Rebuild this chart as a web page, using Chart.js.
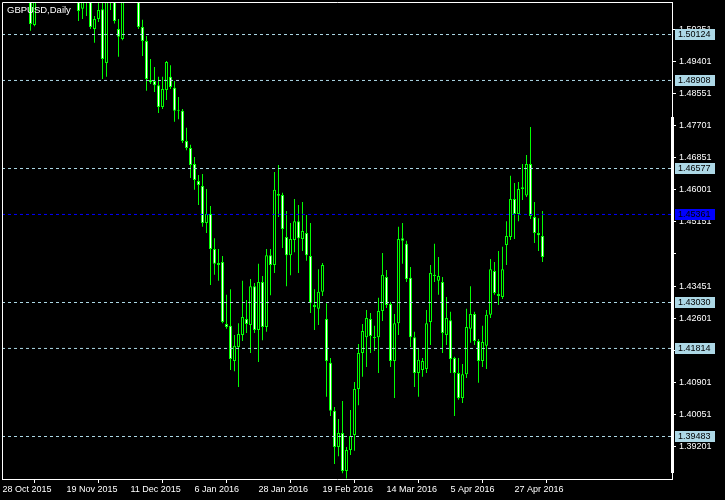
<!DOCTYPE html>
<html>
<head>
<meta charset="utf-8">
<script src="https://cdn.jsdelivr.net/npm/chart.js@4.4.1/dist/chart.umd.min.js"></script>
<style>
html,body{margin:0;padding:0;background:#000;overflow:hidden}
#wrap{width:725px;height:500px;position:relative}
canvas{display:block}
</style>
</head>
<body>
<div id="wrap"><canvas id="c" width="725" height="500"></canvas></div>
<script>
// ---------------- data ----------------
const symbolTitle = 'GBPUSD,Daily';

const barDates = [
 '28 Oct 2015','29 Oct 2015','30 Oct 2015',
 '2 Nov 2015','3 Nov 2015','4 Nov 2015','5 Nov 2015','6 Nov 2015',
 '9 Nov 2015','10 Nov 2015','11 Nov 2015','12 Nov 2015','13 Nov 2015',
 '16 Nov 2015','17 Nov 2015','18 Nov 2015','19 Nov 2015','20 Nov 2015',
 '23 Nov 2015','24 Nov 2015','25 Nov 2015','26 Nov 2015','27 Nov 2015',
 '30 Nov 2015','1 Dec 2015','2 Dec 2015','3 Dec 2015','4 Dec 2015',
 '7 Dec 2015','8 Dec 2015','9 Dec 2015','10 Dec 2015','11 Dec 2015',
 '14 Dec 2015','15 Dec 2015','16 Dec 2015','17 Dec 2015','18 Dec 2015',
 '21 Dec 2015','22 Dec 2015','23 Dec 2015','24 Dec 2015',
 '28 Dec 2015','29 Dec 2015','30 Dec 2015','31 Dec 2015',
 '4 Jan 2016','5 Jan 2016','6 Jan 2016','7 Jan 2016','8 Jan 2016',
 '11 Jan 2016','12 Jan 2016','13 Jan 2016','14 Jan 2016','15 Jan 2016',
 '18 Jan 2016','19 Jan 2016','20 Jan 2016','21 Jan 2016','22 Jan 2016',
 '25 Jan 2016','26 Jan 2016','27 Jan 2016','28 Jan 2016','29 Jan 2016',
 '1 Feb 2016','2 Feb 2016','3 Feb 2016','4 Feb 2016','5 Feb 2016',
 '8 Feb 2016','9 Feb 2016','10 Feb 2016','11 Feb 2016','12 Feb 2016',
 '15 Feb 2016','16 Feb 2016','17 Feb 2016','18 Feb 2016','19 Feb 2016',
 '22 Feb 2016','23 Feb 2016','24 Feb 2016','25 Feb 2016','26 Feb 2016',
 '29 Feb 2016','1 Mar 2016','2 Mar 2016','3 Mar 2016','4 Mar 2016',
 '7 Mar 2016','8 Mar 2016','9 Mar 2016','10 Mar 2016','11 Mar 2016',
 '14 Mar 2016','15 Mar 2016','16 Mar 2016','17 Mar 2016','18 Mar 2016',
 '21 Mar 2016','22 Mar 2016','23 Mar 2016','24 Mar 2016','25 Mar 2016',
 '28 Mar 2016','29 Mar 2016','30 Mar 2016','31 Mar 2016','1 Apr 2016',
 '4 Apr 2016','5 Apr 2016','6 Apr 2016','7 Apr 2016','8 Apr 2016',
 '11 Apr 2016','12 Apr 2016','13 Apr 2016','14 Apr 2016','15 Apr 2016',
 '18 Apr 2016','19 Apr 2016','20 Apr 2016','21 Apr 2016','22 Apr 2016',
 '25 Apr 2016','26 Apr 2016','27 Apr 2016','28 Apr 2016','29 Apr 2016',
 '2 May 2016','3 May 2016','4 May 2016','5 May 2016','6 May 2016'
];

const opens = [
 1.5310,1.5255,1.5260,1.5425,1.5405,1.5395,1.5320,1.5210,1.5036,1.5115,
 1.5205,1.5190,1.5230,1.5215,1.5205,1.5190,1.5250,1.5265,1.5195,1.5115,
 1.5079,1.5110,1.5105,1.5026,1.5052,1.5078,1.4936,1.5120,1.5130,1.5026,
 1.4999,1.5150,1.5175,1.5215,1.5180,1.5031,1.4994,1.4891,1.4888,1.4877,
 1.4819,1.4864,1.4899,1.4870,1.4811,1.4809,1.4729,1.4711,1.4668,1.4623,
 1.4610,1.4512,1.4536,1.4443,1.4406,1.4409,1.4245,1.4240,1.4147,1.4184,
 1.4216,1.4258,1.4242,1.4345,1.4229,1.4356,1.4237,1.4427,1.4401,1.4589,
 1.4586,1.4475,1.4427,1.4467,1.4517,1.4470,1.4486,1.4425,1.4295,1.4285,
 1.4330,1.4258,1.4142,1.4015,1.3919,1.3956,1.3856,1.3911,1.3951,1.4073,
 1.4168,1.4210,1.4258,1.4210,1.4210,1.4279,1.4369,1.4298,1.4147,1.4247,
 1.4472,1.4457,1.4367,1.4210,1.4115,1.4123,1.4126,1.4250,1.4375,1.4359,
 1.4356,1.4216,1.4255,1.4155,1.4115,1.4049,1.4112,1.4232,1.4271,1.4200,
 1.4147,1.4187,1.4269,1.4385,1.4324,1.4316,1.4454,1.4475,1.4576,1.4536,
 1.4602,1.4585,1.4668,1.4528,1.4486,1.4478
];
const highs = [
 1.5335,1.5290,1.5440,1.5440,1.5445,1.5405,1.5335,1.5225,1.5130,1.5240,
 1.5235,1.5255,1.5245,1.5225,1.5230,1.5290,1.5335,1.5275,1.5205,1.5135,
 1.5125,1.5130,1.5125,1.5060,1.5105,1.5105,1.5135,1.5160,1.5140,1.5052,
 1.5160,1.5195,1.5240,1.5245,1.5200,1.5050,1.5007,1.4946,1.4925,1.4899,
 1.4899,1.4941,1.4930,1.4888,1.4846,1.4814,1.4764,1.4719,1.4687,1.4639,
 1.4642,1.4602,1.4557,1.4472,1.4443,1.4425,1.4322,1.4337,1.4216,1.4247,
 1.4359,1.4308,1.4364,1.4353,1.4404,1.4372,1.4443,1.4443,1.4647,1.4666,
 1.4592,1.4544,1.4512,1.4576,1.4560,1.4568,1.4533,1.4512,1.4337,1.4390,
 1.4406,1.4300,1.4155,1.4025,1.3993,1.4041,1.3919,1.4017,1.4091,1.4192,
 1.4245,1.4282,1.4274,1.4240,1.4314,1.4433,1.4388,1.4303,1.4271,1.4502,
 1.4512,1.4465,1.4396,1.4224,1.4179,1.4155,1.4282,1.4401,1.4457,1.4422,
 1.4369,1.4316,1.4277,1.4158,1.4155,1.4139,1.4285,1.4345,1.4277,1.4205,
 1.4240,1.4282,1.4417,1.4409,1.4438,1.4449,1.4517,1.4637,1.4618,1.4621,
 1.4668,1.4692,1.4766,1.4568,1.4525,1.4544
];
const lows = [
 1.5240,1.5225,1.5245,1.5380,1.5375,1.5300,1.5180,1.5021,1.5033,1.5105,
 1.5170,1.5185,1.5200,1.5160,1.5170,1.5185,1.5240,1.5180,1.5105,1.5047,
 1.5052,1.5060,1.5026,1.4989,1.5044,1.4893,1.4899,1.5076,1.5040,1.4952,
 1.4996,1.5105,1.5160,1.5145,1.5026,1.4954,1.4862,1.4880,1.4859,1.4803,
 1.4814,1.4838,1.4867,1.4780,1.4787,1.4724,1.4705,1.4631,1.4600,1.4560,
 1.4502,1.4486,1.4348,1.4375,1.4359,1.4247,1.4232,1.4123,1.4120,1.4078,
 1.4200,1.4221,1.4168,1.4221,1.4144,1.4202,1.4224,1.4321,1.4380,1.4528,
 1.4446,1.4345,1.4374,1.4435,1.4380,1.4438,1.4412,1.4274,1.4229,1.4242,
 1.4319,1.4052,1.4001,1.3874,1.3895,1.3850,1.3836,1.3898,1.3909,1.4030,
 1.4105,1.4131,1.4168,1.4173,1.4115,1.4253,1.4287,1.4131,1.4049,1.4216,
 1.4404,1.4356,1.4184,1.4078,1.4052,1.4105,1.4115,1.4189,1.4356,1.4322,
 1.4168,1.4189,1.4115,1.4001,1.4044,1.4036,1.4102,1.4195,1.4189,1.4089,
 1.4131,1.4126,1.4261,1.4322,1.4295,1.4311,1.4401,1.4467,1.4470,1.4517,
 1.4573,1.4581,1.4523,1.4459,1.4438,1.4409
];
const closes = [
 1.5255,1.5260,1.5425,1.5405,1.5395,1.5320,1.5210,1.5039,1.5115,1.5205,
 1.5190,1.5230,1.5215,1.5205,1.5190,1.5250,1.5265,1.5195,1.5115,1.5073,
 1.5110,1.5105,1.5031,1.5052,1.5076,1.4946,1.5120,1.5130,1.5047,1.5005,
 1.5150,1.5175,1.5215,1.5180,1.5031,1.4994,1.4893,1.4885,1.4877,1.4819,
 1.4867,1.4938,1.4872,1.4809,1.4809,1.4729,1.4711,1.4666,1.4626,1.4613,
 1.4512,1.4536,1.4443,1.4404,1.4401,1.4250,1.4237,1.4152,1.4187,1.4218,
 1.4263,1.4245,1.4345,1.4229,1.4356,1.4237,1.4427,1.4401,1.4600,1.4584,
 1.4496,1.4427,1.4470,1.4517,1.4472,1.4491,1.4427,1.4300,1.4290,1.4330,
 1.4401,1.4147,1.4015,1.3919,1.3956,1.3856,1.3911,1.3948,1.4073,1.4168,
 1.4226,1.4261,1.4213,1.4208,1.4279,1.4375,1.4295,1.4147,1.4247,1.4470,
 1.4465,1.4364,1.4210,1.4115,1.4150,1.4147,1.4247,1.4380,1.4372,1.4372,
 1.4221,1.4261,1.4152,1.4115,1.4049,1.4112,1.4237,1.4271,1.4200,1.4147,
 1.4197,1.4269,1.4390,1.4327,1.4319,1.4390,1.4478,1.4576,1.4536,1.4602,
 1.4607,1.4668,1.4531,1.4486,1.4480,1.4422
];

const xTickBars = [0, 16, 32, 48, 64, 80, 96, 112, 128];
const yTickValues = [1.50251,1.49401,1.48551,1.47701,1.46851,1.46001,1.45151,1.44301,1.43451,1.42601,1.41751,1.40901,1.40051,1.39201];
const yTickLabels = ['1.50251','1.49401','1.48551','1.47701','1.46851','1.46001','1.45151','','1.43451','1.42601','1.41751','1.40901','1.40051','1.39201'];
const levelValues = [1.50124, 1.48908, 1.46577, 1.43030, 1.41814, 1.39483];
const bidValue = 1.45361;

// ---------------- styles / layout ----------------
const X_MIN = -0.125, X_MAX = 167.375;
const Y_MIN = 1.38345, Y_MAX = 1.50945;
const HALF_PX = (Y_MAX - Y_MIN) / 476 / 2;
const CANDLE = '#00ff00';
const LEVEL_COLOR = '#add8e6';
const BID_COLOR = '#0000ff';
const FONT = '"Liberation Sans", Arial, sans-serif';

Chart.defaults.font.family = FONT;
Chart.defaults.font.size = 9;

const wickData = highs.map((h, i) => ({ x: i, y: [lows[i], h] }));
const bodyData = opens.map((o, i) => ({ x: i, y: [o, closes[i]] }));
const bodyFill = opens.map((o, i) => (closes[i] < o ? '#ffffff' : '#000000'));

const levelSets = levelValues.map(v => ({
  type: 'line', yAxisID: 'yL', order: 0,
  data: [{ x: X_MIN, y: v }, { x: X_MAX, y: v }],
  borderColor: LEVEL_COLOR, borderWidth: 1, borderDash: [3, 3],
  pointRadius: 0, fill: false, tension: 0
}));
levelSets.push({
  type: 'line', yAxisID: 'yL', order: 0,
  data: [{ x: X_MIN, y: bidValue }, { x: X_MAX, y: bidValue }],
  borderColor: BID_COLOR, borderWidth: 1, borderDash: [3, 3],
  pointRadius: 0, fill: false, tension: 0
});

const noPad = s => { s.paddingTop = 0; s.paddingBottom = 0; s.paddingLeft = 0; s.paddingRight = 0; };

const decor = {
  id: 'decor',
  afterDraw(chart) {
    const { ctx, chartArea: a, scales } = chart;
    const yl = scales.yL;
    ctx.save();
    // frame left/top
    ctx.strokeStyle = '#ffffff';
    ctx.lineWidth = 1;
    ctx.beginPath();
    ctx.moveTo(2.5, a.bottom + 1);
    ctx.lineTo(2.5, 2.5);
    ctx.lineTo(a.right + 1, 2.5);
    ctx.stroke();
    // thick segment on price scale edge
    ctx.fillStyle = '#ffffff';
    ctx.fillRect(a.right - 1, 117, 3, 356);
    // level labels
    ctx.font = '9px ' + FONT;
    ctx.textBaseline = 'middle';
    ctx.textAlign = 'left';
    const box = (v, bg, fg) => {
      const py = Math.floor(yl.getPixelForValue(v));
      ctx.fillStyle = bg;
      ctx.fillRect(675, py - 5, 40, 11);
      ctx.fillStyle = fg;
      ctx.fillText(v.toFixed(5), 678, py + 1);
    };
    levelValues.forEach(v => box(v, LEVEL_COLOR, '#000000'));
    box(bidValue, BID_COLOR, '#000000');
    // title
    ctx.font = '9.5px ' + FONT;
    ctx.textBaseline = 'alphabetic';
    ctx.fillStyle = '#ffffff';
    ctx.fillText(symbolTitle, 7, 13);
    ctx.restore();
  }
};

new Chart(document.getElementById('c'), {
  type: 'bar',
  data: {
    datasets: [
      ...levelSets,
      {
        label: 'body', order: 1, grouped: false,
        data: bodyData,
        backgroundColor: bodyFill, borderColor: CANDLE, borderWidth: 1,
        borderSkipped: false, barThickness: 3, minBarLength: 1, inflateAmount: 0
      },
      {
        label: 'wick', order: 2, grouped: false,
        data: wickData,
        backgroundColor: CANDLE, borderWidth: 0,
        barThickness: 1, minBarLength: 1, inflateAmount: 0
      }
    ]
  },
  options: {
    responsive: false,
    animation: false,
    events: [],
    layout: { autoPadding: false, padding: { left: 2, top: 3, right: 0, bottom: 0 } },
    plugins: { legend: { display: false }, tooltip: { enabled: false }, title: { display: false } },
    scales: {
      x: {
        type: 'linear', position: 'bottom', min: X_MIN, max: X_MAX, offset: false,
        afterFit: s => { s.height = 21; noPad(s); },
        afterBuildTicks: s => { s.ticks = xTickBars.map(v => ({ value: v })); },
        grid: { display: true, drawOnChartArea: false, drawTicks: true, tickLength: 4, color: '#ffffff' },
        border: { display: true, color: '#ffffff', width: 1 },
        ticks: {
          color: '#ffffff', align: 'start', padding: 1, autoSkip: false, maxRotation: 0, minRotation: 0,
          font: { size: 9, family: FONT },
          callback: v => barDates[v]
        }
      },
      y: {
        type: 'linear', position: 'right', min: Y_MIN, max: Y_MAX,
        afterFit: s => { s.width = 53; noPad(s); },
        afterBuildTicks: s => { s.ticks = yTickValues.map(v => ({ value: v })); },
        grid: { display: true, drawOnChartArea: false, drawTicks: true, tickLength: 4, color: '#ffffff' },
        border: { display: true, color: '#ffffff', width: 1 },
        ticks: {
          color: '#ffffff', padding: 3, autoSkip: false,
          font: { size: 9, family: FONT },
          callback: (v, i) => yTickLabels[i]
        }
      },
      yL: {
        type: 'linear', display: false, min: Y_MIN + HALF_PX, max: Y_MAX + HALF_PX
      }
    }
  },
  plugins: [decor]
});
</script>
</body>
</html>
